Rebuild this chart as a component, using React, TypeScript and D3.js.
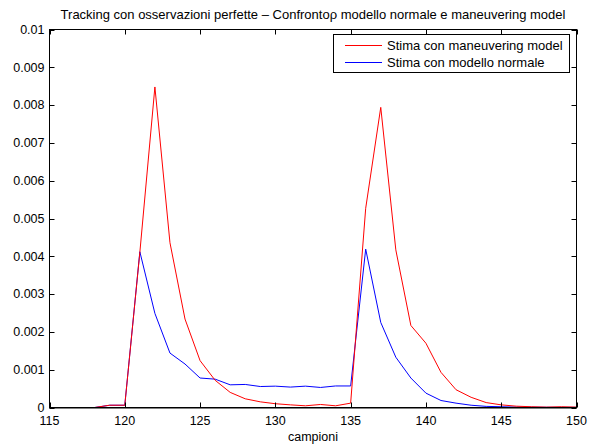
import React, { useEffect, useRef } from "react";
import * as d3 from "d3";

// Sample index (campioni)
const samples: number[] = d3.range(115, 151);

// Estimation error with the maneuvering model
const maneuveringModel: number[] = [
  0, 0, 0, 0, 0.00006, 0.00006, 0.0041, 0.00848, 0.00436, 0.00234,
  0.00124, 0.00072, 0.0004, 0.00023, 0.00015, 0.0001, 0.00007, 0.000045,
  0.00008, 0.000045, 0.000115, 0.00527, 0.00794, 0.00417, 0.00217, 0.0017,
  0.00093, 0.00047, 0.00027, 0.00013, 0.00007, 0.000035, 0.00002, 0.00001,
  0.00002, 0.00001,
];

// Estimation error with the normal model
const normalModel: number[] = [
  0, 0, 0, 0, 0.00006, 0.00006, 0.00412, 0.00249, 0.00144, 0.00115,
  0.00078, 0.00075, 0.0006, 0.00061, 0.000555, 0.000565, 0.00054, 0.000565,
  0.00053, 0.00057, 0.00057, 0.00419, 0.00225, 0.00133, 0.00078, 0.00038,
  0.000185, 0.000115, 0.00006, 0.00003, 0.00002, 0.00001, 0.000008, 0.000005,
  0.000004, 0.000003,
];

const xTicks: number[] = [115, 120, 125, 130, 135, 140, 145, 150];
const yTicks: number[] = [0, 0.001, 0.002, 0.003, 0.004, 0.005, 0.006, 0.007, 0.008, 0.009, 0.01];
const yTickLabels: string[] = ["0", "0.001", "0.002", "0.003", "0.004", "0.005", "0.006", "0.007", "0.008", "0.009", "0.01"];

const titleText = "Tracking con osservazioni perfette \u2013 Confronto\u03c1 modello normale e maneuvering model";
const xLabelText = "campioni";
const legendLabels: string[] = ["Stima con maneuvering model", "Stima con modello normale"];
const seriesColors: string[] = ["#ff0000", "#0000ff"];

const W = 608;
const H = 445;
const FONT = "'Liberation Sans', Arial, Helvetica, sans-serif";

export default function App() {
  const ref = useRef<SVGSVGElement | null>(null);

  useEffect(() => {
    const svg = d3.select(ref.current);
    svg.selectAll("*").remove();

    const left = 49.5, right = 576.5, top = 29.5, bottom = 407.5;
    const x = d3.scaleLinear().domain([115, 150]).range([left, right]);
    const y = d3.scaleLinear().domain([0, 0.01]).range([bottom, top]);

    svg.append("rect").attr("width", W).attr("height", H).attr("fill", "#fff");

    // Title
    svg.append("text")
      .attr("x", (left + right) / 2).attr("y", 19)
      .attr("text-anchor", "middle")
      .attr("font-family", FONT).attr("font-size", 13)
      .text(titleText);

    // Data lines
    const series = [maneuveringModel, normalModel];
    const line = d3.line<number>()
      .x((_, i) => x(samples[i]))
      .y((d) => y(d));
    const plot = svg.append("g");
    plot.append("clipPath").attr("id", "plot-clip")
      .append("rect").attr("x", left).attr("y", top).attr("width", right - left).attr("height", bottom - top);
    // normal model first, maneuvering on top where they coincide
    [1, 0].forEach((s) => {
      plot.append("path")
        .attr("d", line(series[s]) as string)
        .attr("fill", "none")
        .attr("stroke", seriesColors[s])
        .attr("stroke-width", 1)
        .attr("clip-path", "url(#plot-clip)");
    });

    // Axes box
    const axes = svg.append("g").attr("stroke", "#000").attr("stroke-width", 1).attr("fill", "none");
    axes.append("rect").attr("x", left).attr("y", top).attr("width", right - left).attr("height", bottom - top);
    axes.append("line").attr("x1", left).attr("x2", right).attr("y1", bottom + 0.5).attr("y2", bottom + 0.5);

    const tl = 5;
    xTicks.forEach((t) => {
      const px = Math.round(x(t)) + 0.5;
      axes.append("line").attr("x1", px).attr("x2", px).attr("y1", bottom).attr("y2", bottom - tl);
      axes.append("line").attr("x1", px).attr("x2", px).attr("y1", top).attr("y2", top + tl);
      svg.append("text")
        .attr("x", x(t)).attr("y", bottom + 17)
        .attr("text-anchor", "middle")
        .attr("font-family", FONT).attr("font-size", 12.5)
        .text(String(t));
    });
    yTicks.forEach((t, i) => {
      const py = Math.round(y(t)) + 0.5;
      axes.append("line").attr("x1", left).attr("x2", left + tl).attr("y1", py).attr("y2", py);
      axes.append("line").attr("x1", right).attr("x2", right - tl).attr("y1", py).attr("y2", py);
      svg.append("text")
        .attr("x", left - 5).attr("y", y(t)).attr("dy", "0.35em")
        .attr("text-anchor", "end")
        .attr("font-family", FONT).attr("font-size", 12.5)
        .text(yTickLabels[i]);
    });

    // X label
    svg.append("text")
      .attr("x", (left + right) / 2).attr("y", 441)
      .attr("text-anchor", "middle")
      .attr("font-family", FONT).attr("font-size", 12.5)
      .text(xLabelText);

    // Legend
    const lg = svg.append("g");
    lg.append("rect")
      .attr("x", 333.5).attr("y", 34.5).attr("width", 236).attr("height", 38)
      .attr("fill", "#fff").attr("stroke", "#000").attr("stroke-width", 1);
    legendLabels.forEach((lab, i) => {
      const ly = 45.5 + i * 17;
      lg.append("line")
        .attr("x1", 345).attr("x2", 382).attr("y1", ly).attr("y2", ly)
        .attr("stroke", seriesColors[i]).attr("stroke-width", 1);
      lg.append("text")
        .attr("x", 387).attr("y", ly).attr("dy", "0.35em")
        .attr("font-family", FONT).attr("font-size", 13)
        .text(lab);
    });
  }, []);

  return (
    <svg
      ref={ref}
      width={W}
      height={H}
      style={{ position: "absolute", left: 0, top: 0, display: "block" }}
    />
  );
}
